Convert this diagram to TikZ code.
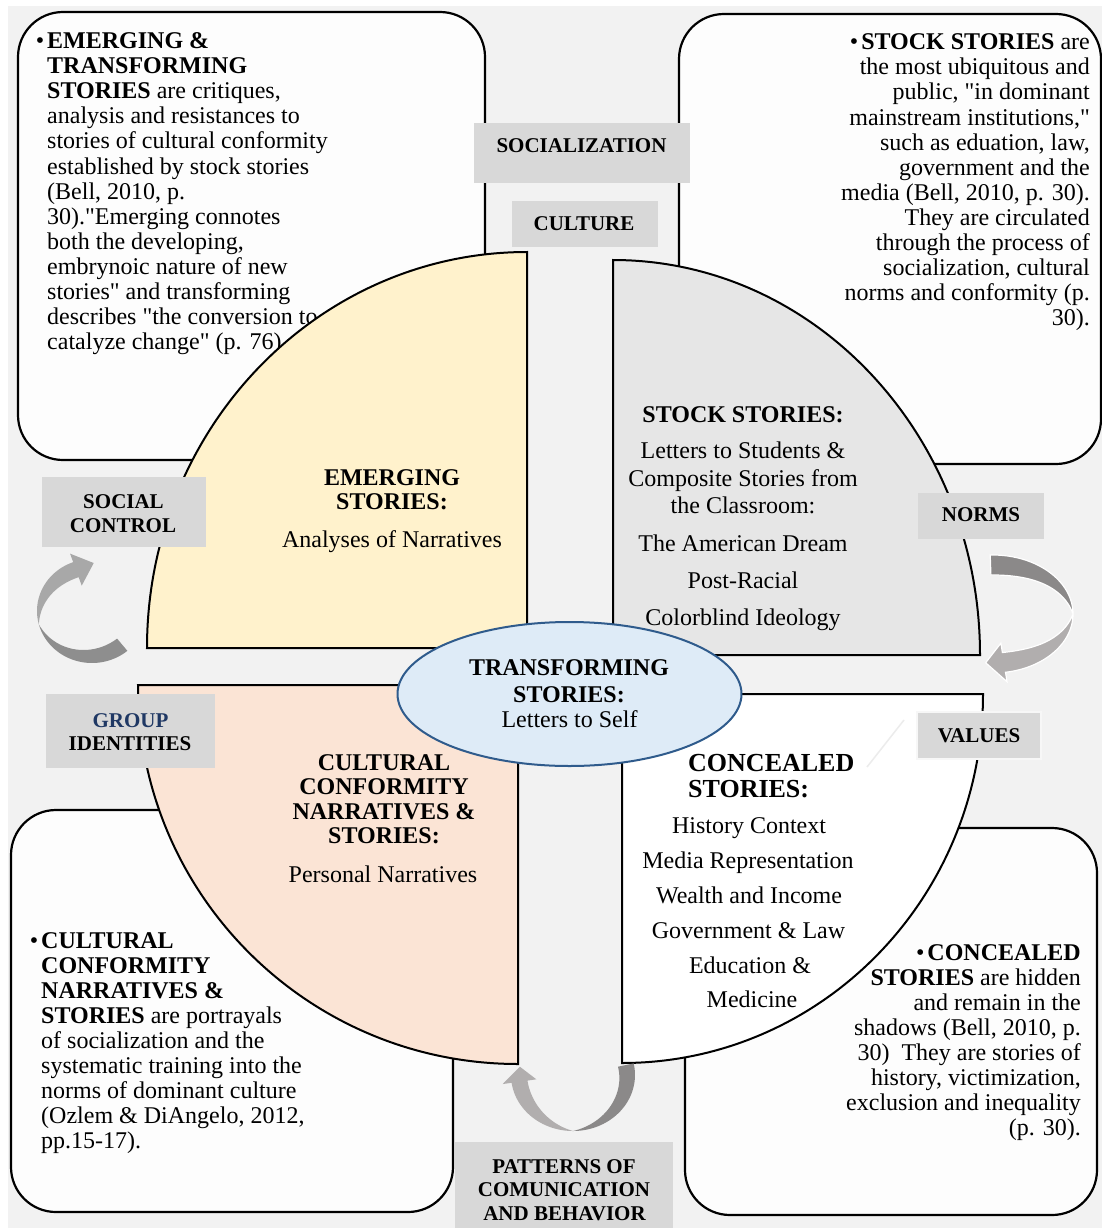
\documentclass[tikz,border=0pt]{standalone}
\usepackage{fontspec}
\setmainfont{Liberation Serif}[Ligatures=TeXOff]
\usetikzlibrary{shapes.geometric}
\definecolor{bgc}{HTML}{F2F2F2}
\definecolor{boxfill}{HTML}{FDFDFD}
\definecolor{labfill}{HTML}{D8D8D8}
\definecolor{qyellow}{HTML}{FFF2CC}
\definecolor{qgray}{HTML}{E6E6E6}
\definecolor{qpeach}{HTML}{FBE4D5}
\definecolor{ellfill}{HTML}{DEEBF7}
\definecolor{elldraw}{HTML}{2F5B8C}
\definecolor{navy}{HTML}{1F3864}
\definecolor{arrdark}{HTML}{8B8989}
\definecolor{arrlight}{HTML}{B1AEAE}
\definecolor{arrldark}{HTML}{8E8E8E}
\definecolor{arrllight}{HTML}{A8A8A8}
\definecolor{faint}{HTML}{ECECEC}
\begin{document}
\begin{tikzpicture}[x=1pt,y=-1pt,
  rbox/.style={draw=black, line width=2.2pt, fill=boxfill, rounded corners=45pt},
  quad/.style={draw=black, line width=2pt},
  lab/.style={fill=labfill, draw=none, inner sep=0pt},
  body/.style={inner sep=0pt, font=\fontsize{24}{25}\selectfont},
  btitle/.style={inner sep=0pt, font=\fontsize{24}{25}\selectfont\bfseries},
  labt/.style={inner sep=0pt, font=\fontsize{21}{24}\selectfont\bfseries}]
\useasboundingbox (0,0) rectangle (1102,1228);
\fill[white] (0,0) rectangle (1102,1228);
\fill[bgc] (8,6) rectangle (1102,1228);

% rounded description boxes
\draw[rbox] (18,12) rectangle (485,460);
\draw[rbox] (679,14) rectangle (1101,464);
\draw[rbox] (11,810) rectangle (453,1212);
\draw[rbox] (685,828) rectangle (1097,1215);

% text of top-left box
\foreach \s [count=\i from 0] in {
 {\llap{\textbullet\hspace{3pt}}\textbf{EMERGING \&}},
 {\textbf{TRANSFORMING}},
 {\textbf{STORIES} are critiques,},
 {analysis and resistances to},
 {stories of cultural conformity},
 {established by stock stories},
 {(Bell, 2010, p.},
 {30)."Emerging connotes},
 {both the developing,},
 {embrynoic nature of new},
 {stories" and transforming},
 {describes "the conversion to},
 {catalyze change" (p. 76).}}
 \node[body, anchor=base west] (tlt\i) at (47,{49+25*\i}) {\s};

% text of top-right box
\foreach \s [count=\i from 0] in {
 {\textbullet\hspace{3pt}\textbf{STOCK STORIES} are},
 {the most ubiquitous and},
 {public, "in dominant},
 {mainstream institutions,"},
 {such as eduation, law,},
 {government and the},
 {media (Bell, 2010, p. 30).},
 {They are circulated},
 {through the process of},
 {socialization, cultural},
 {norms and conformity (p.},
 {30).}}
 \node[body, anchor=base east] (trt\i) at (1090,{50+25*\i}) {\s};

% text of bottom-left box
\foreach \s [count=\i from 0] in {
 {\llap{\textbullet\hspace{3pt}}\textbf{CULTURAL}},
 {\textbf{CONFORMITY}},
 {\textbf{NARRATIVES \&}},
 {\textbf{STORIES} are portrayals},
 {of socialization and the},
 {systematic training into the},
 {norms of dominant culture},
 {(Ozlem \& DiAngelo, 2012,},
 {pp.15-17).}}
 \node[body, anchor=base west] (blt\i) at (41,{948+25*\i}) {\s};

% text of bottom-right box
\foreach \s [count=\i from 0] in {
 {\textbullet\hspace{3pt}\textbf{CONCEALED}},
 {\textbf{STORIES} are hidden},
 {and remain in the},
 {shadows (Bell, 2010, p.},
 {30)~ They are stories of},
 {history, victimization,},
 {exclusion and inequality},
 {(p. 30).}}
 \node[body, anchor=base east] (brt\i) at (1081,{960+25*\i}) {\s};

% quadrants
\draw[quad, fill=qyellow] (527,648) -- (527,252) arc[start angle=-90, end angle=-180, x radius=380, y radius=396] -- cycle;
\draw[quad, fill=qgray] (613,655) -- (613,260) arc[start angle=-90, end angle=0, x radius=367, y radius=395] -- cycle;
\draw[quad, fill=qpeach] (518,685) -- (138,685) arc[start angle=180, end angle=90, x radius=380, y radius=379] -- cycle;
\draw[quad, fill=white] (622,694) -- (983,694) arc[start angle=0, end angle=90, x radius=361, y radius=369] -- cycle;

% quadrant texts
\node[btitle, anchor=base] (em1) at (392,485) {EMERGING};
\node[btitle, anchor=base] (em2) at (392,509) {STORIES:};
\node[body, anchor=base] (em3) at (392,547) {Analyses of Narratives};

\node[btitle, anchor=base] (st1) at (743,422) {STOCK STORIES:};
\node[body, anchor=base] (st2) at (743,458) {Letters to Students \&};
\node[body, anchor=base] (st3) at (743,486) {Composite Stories from};
\node[body, anchor=base] (st4) at (743,513) {the Classroom:};
\node[body, anchor=base] (st5) at (743,551) {The American Dream};
\node[body, anchor=base] (st6) at (743,588) {Post-Racial};
\node[body, anchor=base] (st7) at (743,625) {Colorblind Ideology};

\node[btitle, anchor=base] (cc1) at (384,770) {CULTURAL};
\node[btitle, anchor=base] (cc2) at (384,794.5) {CONFORMITY};
\node[btitle, anchor=base] (cc3) at (384,819) {NARRATIVES \&};
\node[btitle, anchor=base] (cc4) at (384,843.5) {STORIES:};
\node[body, anchor=base] (cc5) at (383,882) {Personal Narratives};

\node[inner sep=0pt, font=\fontsize{26}{27}\selectfont\bfseries, anchor=base west] (co1) at (688,771) {CONCEALED};
\node[inner sep=0pt, font=\fontsize{26}{27}\selectfont\bfseries, anchor=base west] (co2) at (688,797) {STORIES:};
\node[body, anchor=base] (co3) at (749,833) {History Context};
\node[body, anchor=base] (co4) at (748,868) {Media Representation};
\node[body, anchor=base] (co5) at (749,903) {Wealth and Income};
\node[body, anchor=base] (co6) at (748.5,938) {Government \& Law};
\node[body, anchor=base] (co7) at (750,973) {Education \&};
\node[body, anchor=base] (co8) at (752,1007) {Medicine};

% central ellipse
\node[ellipse, draw=elldraw, fill=ellfill, line width=2pt, minimum width=344pt, minimum height=144pt, inner sep=0pt] (ell) at (569.5,694) {};
\node[btitle, anchor=base] (ts1) at (569,675) {TRANSFORMING};
\node[btitle, anchor=base] (ts2) at (569,702) {STORIES:};
\node[body, anchor=base] (ts3) at (569.5,727) {Letters to Self};

% label boxes
\node[lab, minimum width=216pt, minimum height=60pt] (socbox) at (582,153) {};
\node[labt, anchor=base] (soct) at (581.5,153) {SOCIALIZATION};
\node[lab, minimum width=146pt, minimum height=46pt] (culbox) at (585,224) {};
\node[labt, anchor=base] (cult) at (584,230) {CULTURE};
\node[lab, minimum width=164pt, minimum height=70pt] (scbox) at (124,512) {};
\node[labt, anchor=base] (sct1) at (123.5,508) {SOCIAL};
\node[labt, anchor=base] (sct2) at (123,532) {CONTROL};
\node[lab, minimum width=126pt, minimum height=46pt] (norbox) at (981,516) {};
\node[labt, anchor=base] (nort) at (981,521) {NORMS};
\node[lab, minimum width=124pt, minimum height=47pt, draw=white!97!black, line width=2.5pt] (valbox) at (979,735.5) {};
\node[labt, anchor=base] (valt) at (979,742) {VALUES};
\node[lab, minimum width=169pt, minimum height=74pt] (gibox) at (130.5,731) {};
\node[labt, anchor=base, text=navy] (git1) at (130.5,727) {GROUP};
\node[labt, anchor=base] (git2) at (130,750) {IDENTITIES};
\node[lab, minimum width=218pt, minimum height=86pt] (patbox) at (564,1185) {};
\node[labt, anchor=base] (pat1) at (564,1173) {PATTERNS OF};
\node[labt, anchor=base] (pat2) at (564,1196) {COMUNICATION};
\node[labt, anchor=base] (pat3) at (564.5,1220) {AND BEHAVIOR};

% faint line near VALUES
\draw[faint, line width=1.5pt] (904,720) -- (867,767);

% right curved arrow (norms -> values)
\fill[arrdark, draw=white, line width=1.2pt]
  plot[domain=-92:0, samples=40, variable=\t] ({993+80*cos(\t)},{614+59*sin(\t)})
  -- plot[domain=0:-92, samples=40, variable=\t] ({993+(80+20*sin(\t))*cos(\t)},{614+(59+20*sin(\t))*sin(\t)})
  -- cycle;
\fill[arrlight, draw=white, line width=1.2pt]
  plot[domain=0:81, samples=40, variable=\t] ({993+80*cos(\t)},{614+59*sin(\t)})
  -- ({993+89.5*cos(81)},{614+68.5*sin(81)})
  -- ({993+70*cos(96)},{614+49*sin(96)})
  -- ({993+50.5*cos(81)},{614+29.5*sin(81)})
  -- plot[domain=81:0, samples=40, variable=\t] ({993+(80-20*sin(90*(\t)/81))*cos(\t)},{614+(59-20*sin(90*(\t)/81))*sin(\t)})
  -- cycle;

% left curved arrow (group identities -> social control)
\fill[arrldark]
  plot[domain=50:165, samples=40, variable=\t] ({92+55*cos(\t)},{611+52*sin(\t)})
  -- plot[domain=165:50, samples=40, variable=\t] ({92+(55-16*sin(90*(165-(\t))/115))*cos(\t)},{611+(52-16*sin(90*(165-(\t))/115))*sin(\t)})
  -- cycle;
\fill[arrllight]
  plot[domain=165:250, samples=40, variable=\t] ({92+55*cos(\t)},{611+52*sin(\t)})
  -- ({92+64*cos(250)},{611+61*sin(250)})
  -- ({92+50*cos(272)},{611+48*sin(272)})
  -- ({92+30*cos(250)},{611+27*sin(250)})
  -- plot[domain=250:165, samples=40, variable=\t] ({92+(55-16*sin(90*((\t)-165)/85))*cos(\t)},{611+(52-16*sin(90*((\t)-165)/85))*sin(\t)})
  -- cycle;

% bottom curved arrow (concealed -> cultural conformity)
\fill[arrdark]
  plot[domain=-12:90, samples=40, variable=\t] ({573+62*cos(\t)},{1075+56*sin(\t)})
  -- plot[domain=90:-12, samples=40, variable=\t] ({573+(62-16*sin(90*(90-(\t))/102))*cos(\t)},{1075+(56-16*sin(90*(90-(\t))/102))*sin(\t)})
  -- cycle;
\fill[arrlight]
  plot[domain=90:172, samples=40, variable=\t] ({573+62*cos(\t)},{1075+56*sin(\t)})
  -- ({573+71*cos(172)},{1075+65*sin(172)})
  -- ({573+54*cos(190)},{1075+48*sin(190)})
  -- ({573+37*cos(172)},{1075+31*sin(172)})
  -- plot[domain=172:90, samples=40, variable=\t] ({573+(62-16*sin(90*((\t)-90)/82))*cos(\t)},{1075+(56-16*sin(90*((\t)-90)/82))*sin(\t)})
  -- cycle;
\end{tikzpicture}
\end{document}
